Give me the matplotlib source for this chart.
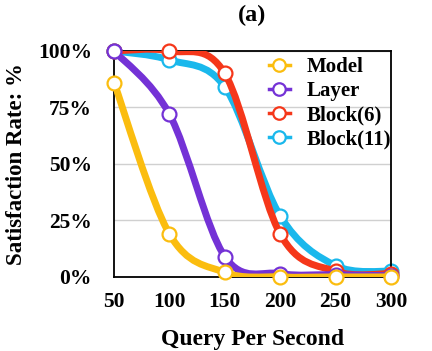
import numpy as np
import matplotlib
matplotlib.use("Agg")
import matplotlib.pyplot as plt
from matplotlib.path import Path
from matplotlib.patches import PathPatch
from matplotlib.lines import Line2D

qps = [50, 100, 150, 200, 250, 300]
model = [86, 19, 2, 0, 0, 0]
layer = [100, 72, 9, 1.5, 1, 0.5]
block6 = [100, 100, 90, 19, 2.5, 1.5]
block11 = [100, 96, 84, 27, 5, 2.5]

series = [
    ("Block(11)", block11, "#1ab8ec"),
    ("Block(6)", block6, "#f5371a"),
    ("Layer", layer, "#7432d6"),
    ("Model", model, "#fbbd0f"),
]

plt.rcParams["font.family"] = ["Liberation Serif", "DejaVu Serif"]
plt.rcParams["font.weight"] = "bold"


def smooth_path(x, y):
    # Excel-style smoothed line: cubic bezier segments through each point
    pts = np.column_stack([x, y]).astype(float)
    n = len(pts)
    verts = [pts[0]]
    codes = [Path.MOVETO]
    for i in range(n - 1):
        p0 = pts[i - 1] if i > 0 else pts[i]
        p1 = pts[i]
        p2 = pts[i + 1]
        p3 = pts[i + 2] if i + 2 < n else pts[i + 1]
        c1 = p1 + (p2 - p0) / 6.0
        c2 = p2 - (p3 - p1) / 6.0
        verts += [c1, c2, p2]
        codes += [Path.CURVE4] * 3
    return Path(verts, codes)


fig = plt.figure(figsize=(4.32, 3.51), dpi=100)
ax = fig.add_axes([0.264, 0.211, 0.641, 0.644])

handles = []
for i, (name, vals, color) in enumerate(series):
    y = np.array(vals) / 100.0
    patch = PathPatch(smooth_path(qps, y), facecolor="none", edgecolor=color,
                      lw=5, capstyle="round", joinstyle="round", zorder=2 + i)
    ax.add_patch(patch)
    ax.plot(qps, y, linestyle="none", marker="o", markersize=10,
            markerfacecolor="white", markeredgecolor=color,
            markeredgewidth=1.6, zorder=2.5 + i, clip_on=False)
    handles.append(Line2D([], [], color=color, lw=2.5, marker="o", markersize=9,
                          markerfacecolor="white", markeredgecolor=color,
                          markeredgewidth=1.6, label=name))

ax.set_xlim(50, 300)
ax.set_ylim(0, 1)
ax.set_xticks(qps)
ax.set_yticks([0, 0.25, 0.5, 0.75, 1.0])
ax.set_yticklabels(["0%", "25%", "50%", "75%", "100%"])
ax.tick_params(length=0, labelsize=15.5)
ax.tick_params(axis="y", pad=16)
ax.tick_params(axis="x", pad=11)
for lbl in ax.get_xticklabels() + ax.get_yticklabels():
    lbl.set_fontweight("bold")

ax.grid(axis="y", color="#d0d0d0", lw=1)
ax.set_axisbelow(True)
for sp in ax.spines.values():
    sp.set_color("black")
    sp.set_linewidth(1.3)

ax.text(0.5, 1.155, "(a)", transform=ax.transAxes, ha="center", va="center",
        fontsize=17.5, fontweight="bold")
ax.set_xlabel("Query Per Second", fontsize=17, fontweight="bold", labelpad=12)
ax.set_ylabel("Satisfaction Rate: %", fontsize=16.5, fontweight="bold", labelpad=8)

ax.legend(handles=handles[::-1], loc="upper right", frameon=False,
          handlelength=1.0, handletextpad=0.8,
          labelspacing=0.2, borderaxespad=0.0, bbox_to_anchor=(1.03, 1.01),
          prop={"weight": "bold", "size": 15})

fig.savefig("out.png", dpi=100)
